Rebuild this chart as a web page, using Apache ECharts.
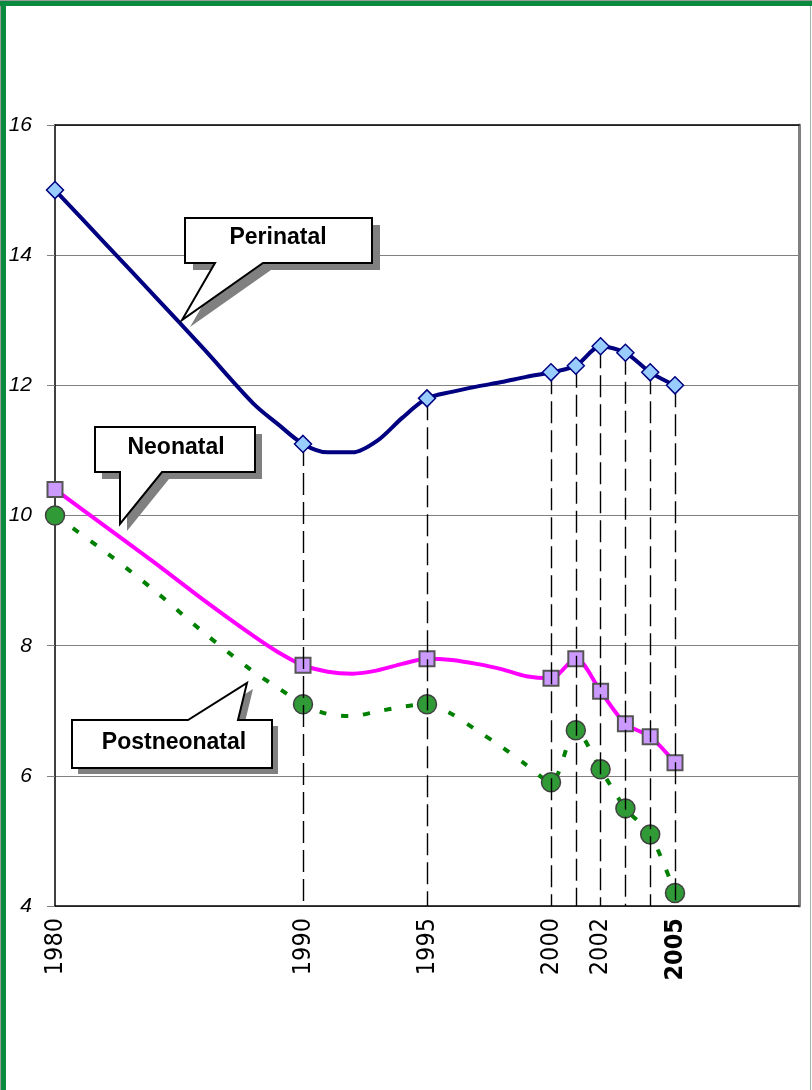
<!DOCTYPE html>
<html>
<head>
<meta charset="utf-8">
<script src="https://cdn.jsdelivr.net/npm/echarts@6/dist/echarts.min.js"></script>
<style>
html,body{margin:0;padding:0;background:#fff;}
#chart{position:absolute;left:0;top:0;width:812px;height:1090px;}
.b{position:absolute;}
</style>
</head>
<body>
<div id="chart"></div>
<div class="b" style="left:0;top:0;width:1px;height:1090px;background:#9a9a9a"></div>
<div class="b" style="left:1px;top:0;width:5px;height:1090px;background:#0b8b3e"></div>
<div class="b" style="left:0;top:0;width:812px;height:1px;background:#9a9a9a"></div>
<div class="b" style="left:0;top:1px;width:812px;height:5px;background:#0b8b3e"></div>
<div class="b" style="left:810px;top:6px;width:1px;height:1084px;background:#9fb8a8"></div>
<script>
// ---- data ----
var years = [1980,1982,1984,1986,1988,1989,1990,1991,1992,1993,1994,1995,1996,1997,1998,1999,2000,2001,2002,2003,2004,2005];
var perinatal = [15.0,14.19,13.38,12.56,11.72,11.4,11.1,10.97,10.97,11.15,11.5,11.8,11.9,11.98,12.05,12.13,12.2,12.3,12.6,12.5,12.2,12.0];
var neonatal = [10.4,9.84,9.28,8.7,8.15,7.9,7.7,7.6,7.57,7.62,7.72,7.8,7.78,7.72,7.64,7.53,7.5,7.8,7.3,6.8,6.6,6.2];
var postneonatal = [10.0,9.45,8.85,8.2,7.6,7.35,7.1,6.95,6.92,6.99,7.06,7.1,6.95,6.7,6.45,6.17,5.9,6.7,6.1,5.5,5.1,4.2];
var markerYears = [1980,1990,1995,2000,2001,2002,2003,2004,2005];
var dropLineYears = [1990,1995,2000,2001,2002,2003,2004,2005];
var xTickLabels = [1980,1990,1995,2000,2002,2005];
var boldTick = 2005;
var yMin = 4, yMax = 16, yStep = 2;
var xMin = 1980, xMax = 2010;

function build(vals){
  return years.map(function(y,i){
    var item = {value:[y, vals[i]]};
    if (markerYears.indexOf(y) < 0) item.symbol = 'none';
    return item;
  });
}
var dropData = dropLineYears.map(function(y){
  var v = perinatal[years.indexOf(y)];
  return [{coord:[y, v]}, {coord:[y, yMin]}];
});

var chart = echarts.init(document.getElementById('chart'), null, {renderer:'canvas'});
var narrow = "'Liberation Sans Narrow','DejaVu Sans Condensed',sans-serif";
var sans = "'Liberation Sans',Arial,sans-serif";

function callout(points, shadowDx, shadowDy, textX, textY, text){
  var sh = points.map(function(p){return [p[0]+shadowDx, p[1]+shadowDy];});
  return [
    {type:'polygon', z:100, shape:{points:sh}, style:{fill:'#808080', stroke:null}},
    {type:'polygon', z:101, shape:{points:points}, style:{fill:'#fff', stroke:'#000', lineWidth:2}},
    {type:'text', z:102, x:textX, y:textY, style:{text:text, fill:'#000', font:'bold 23px '+sans, textAlign:'center', textVerticalAlign:'middle'}}
  ];
}

var graphics = []
  .concat(callout([[185,218],[372,218],[372,263],[263,263],[182,320],[215,263],[185,263]], 8, 7, 278, 238, 'Perinatal'))
  .concat(callout([[95,427],[255,427],[255,472],[162,472],[120,524],[120,472],[95,472]], 7, 7, 176, 448, 'Neonatal'))
  .concat(callout([[72,720],[188,720],[247,683],[238,720],[272,720],[272,768],[72,768]], 6, 6, 174, 743, 'Postneonatal'));

chart.setOption({
  animation:false,
  backgroundColor:'#fff',
  grid:{left:55, top:125, right:13, bottom:184, show:false},
  xAxis:[{
    type:'value', min:xMin, max:xMax, interval:1, position:'bottom',
    axisLine:{show:true, onZero:false, lineStyle:{color:'#000', width:1.5}},
    axisTick:{show:false}, splitLine:{show:false},
    axisLabel:{
      rotate:90, margin:12, fontSize:25, fontFamily:narrow, color:'#000',
      formatter:function(v){
        if (xTickLabels.indexOf(v) < 0) return '';
        return v === boldTick ? '{b|'+v+'}' : String(v);
      },
      rich:{b:{fontWeight:'bold', fontSize:25, fontFamily:narrow, color:'#000'}}
    }
  },{
    type:'value', min:xMin, max:xMax, position:'top',
    axisLine:{show:true, onZero:false, lineStyle:{color:'#000', width:1.5}},
    axisTick:{show:false}, axisLabel:{show:false}, splitLine:{show:false}
  }],
  yAxis:[{
    type:'value', min:yMin, max:yMax, interval:yStep,
    axisLine:{show:true, onZero:false, lineStyle:{color:'#000', width:1.5}},
    axisTick:{show:true, length:8, lineStyle:{color:'#808080', width:1}},
    axisLabel:{margin:23, fontSize:21, fontStyle:'italic', fontFamily:sans, color:'#000'},
    splitLine:{show:true, lineStyle:{color:'#808080', width:1}}
  },{
    type:'value', min:yMin, max:yMax, position:'right',
    axisLine:{show:true, onZero:false, lineStyle:{color:'#808080', width:3}},
    axisTick:{show:false}, axisLabel:{show:false}, splitLine:{show:false}
  }],
  graphic:graphics,
  series:[{
    name:'drop', type:'line', z:1, silent:true, symbol:'none',
    data:build(perinatal), lineStyle:{opacity:0},
    markLine:{silent:true, symbol:['none','none'], label:{show:false},
      lineStyle:{color:'#000', width:1.4, type:[22,7]}, data:dropData}
  },{
    name:'Postneonatal', type:'line', z:3, smooth:0.3,
    data:build(postneonatal), symbol:'circle', symbolSize:19,
    itemStyle:{color:'#2f9a36', borderColor:'#404040', borderWidth:1.5},
    lineStyle:{color:'#008000', width:4, type:[7,15]}
  },{
    name:'Neonatal', type:'line', z:4, smooth:0.3,
    data:build(neonatal), symbol:'rect', symbolSize:15,
    itemStyle:{color:'#cc99ff', borderColor:'#555', borderWidth:2},
    lineStyle:{color:'#ff00ff', width:4}
  },{
    name:'Perinatal', type:'line', z:5, smooth:0.3,
    data:build(perinatal), symbol:'diamond', symbolSize:17,
    itemStyle:{color:'#99ccff', borderColor:'#000080', borderWidth:1.5},
    lineStyle:{color:'#000080', width:4}
  }]
});
</script>
</body>
</html>
